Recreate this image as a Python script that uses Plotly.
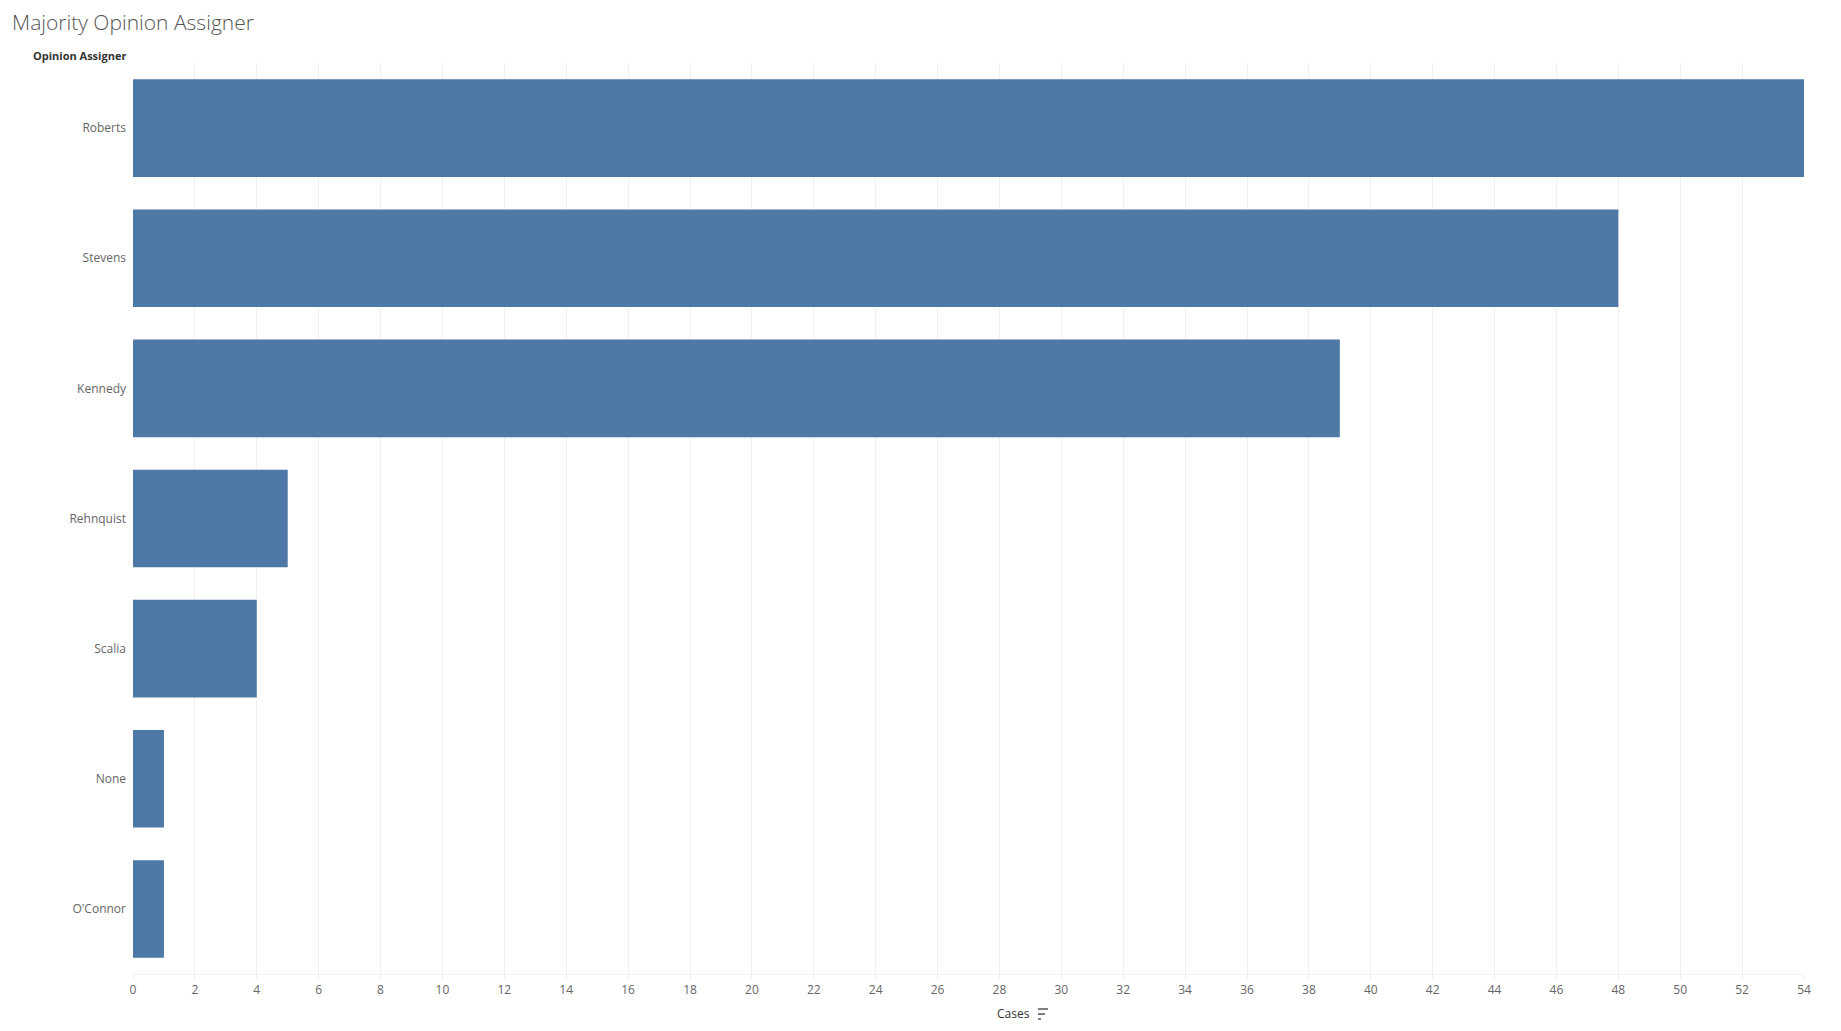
import plotly.graph_objects as go

# Data
assigners = ["Roberts", "Stevens", "Kennedy", "Rehnquist", "Scalia", "None", "O'Connor"]
cases = [54, 48, 39, 5, 4, 1, 1]
x_ticks = list(range(0, 56, 2))

COLORS = {
    'bar': '#4e79a7',
    'grid': '#f0f0f0',
    'text': '#666666',
    'title': '#555555',
    'dark': '#333333',
}

# page is rendered with an 8px body margin, so the figure is 16px smaller
PAGE_OFF = 8
W, H = 1841 - 2 * PAGE_OFF, 1031 - 2 * PAGE_OFF
M = dict(l=133 - PAGE_OFF, r=37 - PAGE_OFF, t=63 - PAGE_OFF, b=1031 - 974 - PAGE_OFF)


def px_x(x):
    """page pixel x -> paper coordinate"""
    return (x - PAGE_OFF - M['l']) / (W - M['l'] - M['r'])


def px_y(y):
    """page pixel y -> paper coordinate"""
    return 1 - (y - PAGE_OFF - M['t']) / (H - M['t'] - M['b'])


fig = go.Figure()
fig.add_trace(
    go.Bar(
        x=cases,
        y=assigners,
        orientation='h',
        marker_color=COLORS['bar'],
        marker_line_width=0,
        width=0.75,
        hovertemplate='%{y}: %{x}<extra></extra>',
    )
)

fig.update_layout(
    width=W,
    height=H,
    paper_bgcolor='white',
    plot_bgcolor='white',
    showlegend=False,
    font=dict(family='Open Sans, Noto Sans, sans-serif', size=12, color=COLORS['text']),
    margin=M,
    xaxis=dict(
        range=[0, 54],
        tickvals=x_ticks,
        showgrid=True,
        gridcolor=COLORS['grid'],
        gridwidth=1,
        zeroline=False,
        showline=True,
        linecolor=COLORS['grid'],
        linewidth=1,
        ticks='outside',
        ticklen=5,
        tickcolor=COLORS['grid'],
        tickfont=dict(size=12, color=COLORS['text']),
    ),
    yaxis=dict(
        categoryorder='array',
        categoryarray=assigners[::-1],
        showgrid=False,
        zeroline=False,
        showline=False,
        ticks='',
        ticklabelstandoff=6,
        tickfont=dict(size=12, color=COLORS['text']),
    ),
    annotations=[
        dict(
            text='Majority Opinion Assigner',
            x=px_x(10), y=px_y(22), xref='paper', yref='paper',
            xanchor='left', yanchor='middle', showarrow=False,
            font=dict(size=21, color=COLORS['title'], weight=300),
        ),
        dict(
            text='<b>Opinion Assigner</b>',
            x=px_x(31), y=px_y(55), xref='paper', yref='paper',
            xanchor='left', yanchor='middle', showarrow=False,
            font=dict(size=11, color=COLORS['dark']),
        ),
        dict(
            text='Cases',
            x=px_x(1032), y=px_y(1014), xref='paper', yref='paper',
            xanchor='right', yanchor='middle', showarrow=False,
            font=dict(size=12, color=COLORS['dark']),
        ),
    ],
)

# sort icon next to the axis title
for yy, x_end in [(1009, 1048), (1014, 1045), (1019, 1041)]:
    fig.add_shape(
        type='line', xref='paper', yref='paper',
        x0=px_x(1038), x1=px_x(x_end), y0=px_y(yy), y1=px_y(yy),
        line=dict(color='#555555', width=1.5),
    )

fig.write_html("out.html")
